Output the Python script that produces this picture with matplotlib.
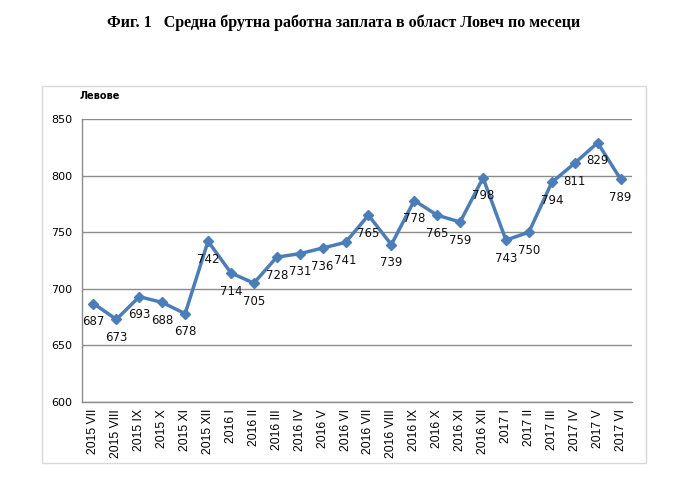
import matplotlib
matplotlib.use("Agg")
import matplotlib.pyplot as plt
from matplotlib.patches import Rectangle

# monthly average gross wage, Lovech region
months = ["2015 VII", "2015 VIII", "2015 IX", "2015 X", "2015 XI", "2015 XII",
          "2016 I", "2016 II", "2016 III", "2016 IV", "2016 V", "2016 VI",
          "2016 VII", "2016 VIII", "2016 IX", "2016 X", "2016 XI", "2016 XII",
          "2017 I", "2017 II", "2017 III", "2017 IV", "2017 V", "2017 VI"]
values = [687, 673, 693, 688, 678, 742, 714, 705, 728, 731, 736, 741,
          765, 739, 778, 765, 759, 798, 743, 750, 794, 811, 829, 797]
# data labels as printed in the source (last one differs from the plotted point)
value_labels = [687, 673, 693, 688, 678, 742, 714, 705, 728, 731, 736, 741,
                765, 739, 778, 765, 759, 798, 743, 750, 794, 811, 829, 789]
yticks = [600, 650, 700, 750, 800, 850]

LINE = "#4A7EBB"
GRID = "#8C8C8C"

fig = plt.figure(figsize=(6.77, 4.83), dpi=100)

# light chart frame
fig.patches.append(Rectangle((42 / 677, 1 - 463 / 483), 604 / 677, 377 / 483,
                             transform=fig.transFigure, fill=False,
                             edgecolor="#D9D9D9", linewidth=1))

fig.text(0.507, 1 - 23 / 483,
         "Фиг. 1   Средна брутна работна заплата в област Ловеч по месеци",
         ha="center", va="center", fontsize=11.5, fontweight="bold",
         family="Liberation Serif")

ax = fig.add_axes([82 / 677, 1 - 402 / 483, 550 / 677, 283 / 483])
x = range(len(values))
ax.plot(x, values, color=LINE, linewidth=2.5, marker="D", markersize=5,
        zorder=3, clip_on=False)
for i, (v, lab) in enumerate(zip(values, value_labels)):
    ax.annotate(str(lab), (i, v), xytext=(0, -13), textcoords="offset points",
                ha="center", va="center", fontsize=8.5, family="DejaVu Sans",
                color="#111111")

ax.set_xlim(-0.5, len(values) - 0.5)
ax.set_ylim(600, 850)
ax.set_yticks(yticks)
ax.set_xticks(list(x))
ax.set_xticklabels(months, rotation=90, fontsize=8.8, family="Liberation Sans")
ax.tick_params(axis="x", length=0, pad=5)
ax.tick_params(axis="y", length=0, pad=7, labelsize=8)
for lab in ax.get_yticklabels():
    lab.set_family("DejaVu Sans")

ax.grid(axis="y", color=GRID, linewidth=1)
ax.set_axisbelow(True)
for side in ("top", "right"):
    ax.spines[side].set_visible(False)
for side in ("left", "bottom"):
    ax.spines[side].set_color(GRID)
    ax.spines[side].set_linewidth(1)

fig.text(80 / 677, 1 - 96 / 483, "Левове", fontsize=7, fontweight="bold",
         family="DejaVu Sans", va="center")

fig.savefig("out.png", dpi=100)
